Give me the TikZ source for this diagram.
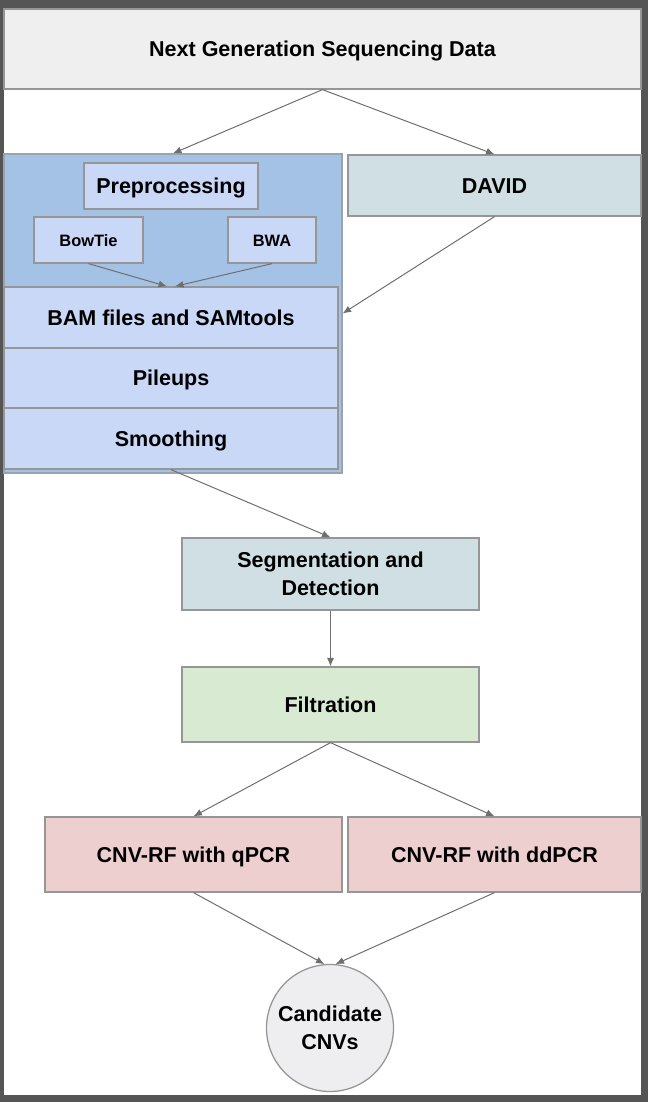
\documentclass[tikz,border=0pt]{standalone}
\usepackage{fontspec}
\setmainfont{Liberation Sans}
\usetikzlibrary{arrows.meta,positioning,shapes.geometric}

\definecolor{framegray}{RGB}{85,85,85}
\definecolor{edgegray}{RGB}{150,150,150}
\definecolor{linegray}{RGB}{110,110,110}
\definecolor{ngsgray}{RGB}{239,239,240}
\definecolor{groupblue}{RGB}{164,194,229}
\definecolor{innerblue}{RGB}{201,216,246}
\definecolor{cyangray}{RGB}{208,223,228}
\definecolor{palegreen}{RGB}{217,234,211}
\definecolor{palered}{RGB}{238,207,208}
\definecolor{circlegray}{RGB}{238,238,240}

\tikzset{
  stage/.style={rectangle, draw=edgegray, line width=0.9pt, inner sep=0pt, align=center,
    font=\bfseries\fontsize{15.3}{19.9}\selectfont},
  oneline/.style={stage, text height=11.8pt, text depth=0.6pt},
  subbox/.style={stage, fill=innerblue, font=\bfseries\fontsize{11.7}{14}\selectfont,
    text height=9.2pt, text depth=0.4pt},
  link/.style={draw=linegray, line width=0.7pt, -{Latex[length=6pt,width=5pt]}}
}

\begin{document}
\begin{tikzpicture}
  \useasboundingbox (0,0) rectangle (16.2,-27.55);
  \fill[framegray] (0,0) rectangle (16.2,-27.55);
  \fill[white] (0.1,-0.2) rectangle (16.025,-27.375);
  % input
  \node[oneline, fill=ngsgray, minimum width=15.925cm, minimum height=2cm] (ngs) at (8.0625,-1.225) {Next Generation Sequencing Data};
  % preprocessing group
  \node[stage, fill=groupblue, draw=edgegray!70!groupblue, minimum width=8.45cm, minimum height=7.975cm] (group) at (4.325,-7.8375) {};
  \node[oneline, fill=innerblue, minimum width=4.35cm, minimum height=1.15cm] (prep) at (4.275,-4.65) {Preprocessing};
  \node[subbox, minimum width=2.725cm, minimum height=1.15cm] (bowtie) at (2.2125,-6.0) {BowTie};
  \node[subbox, minimum width=2.2cm, minimum height=1.15cm] (bwa) at (6.8,-6.0) {BWA};
  \node[oneline, fill=innerblue, minimum width=8.35cm, minimum height=1.525cm] (bam) at (4.275,-7.9375) {BAM files and SAMtools};
  \node[oneline, fill=innerblue, minimum width=8.35cm, minimum height=1.5cm] (pileup) at (4.275,-9.45) {Pileups};
  \node[oneline, fill=innerblue, minimum width=8.35cm, minimum height=1.525cm] (smooth) at (4.275,-10.9625) {Smoothing};
  \node[oneline, fill=cyangray, minimum width=7.325cm, minimum height=1.525cm] (david) at (12.3625,-4.6375) {DAVID};
  % detection and filtering
  \node[stage, fill=cyangray, minimum width=7.425cm, minimum height=1.8cm] (seg) at (8.2625,-14.35) {Segmentation and\\Detection};
  \node[oneline, fill=palegreen, minimum width=7.425cm, minimum height=1.875cm] (filt) at (8.2625,-17.6125) {Filtration};
  \node[oneline, fill=palered, minimum width=7.425cm, minimum height=1.875cm] (qpcr) at (4.8375,-21.3625) {CNV-RF with qPCR};
  \node[oneline, fill=palered, minimum width=7.325cm, minimum height=1.875cm] (ddpcr) at (12.3625,-21.3625) {CNV-RF with ddPCR};
  \node[stage, circle, fill=circlegray, minimum size=3.175cm] (cnv) at (8.25,-25.7) {Candidate\\CNVs};
  % connectors
  \draw[link] (ngs.south) -- (group.north);
  \draw[link] (ngs.south) -- (david.north);
  \draw[link] (bowtie.south) -- ([xshift=-0.1cm]bam.north);
  \draw[link] (bwa.south) -- ([xshift=0.1cm]bam.north);
  \draw[link] (david.south) -- ([yshift=0.1cm]bam.east -| group.east);
  \draw[link] (smooth.south) -- (seg.north);
  \draw[link] (seg.south) -- (filt.north);
  \draw[link] (filt.south) -- (qpcr.north);
  \draw[link] (filt.south) -- (ddpcr.north);
  \draw[link] (qpcr.south) -- (cnv.95);
  \draw[link] (ddpcr.south) -- (cnv.85);
\end{tikzpicture}
\end{document}
